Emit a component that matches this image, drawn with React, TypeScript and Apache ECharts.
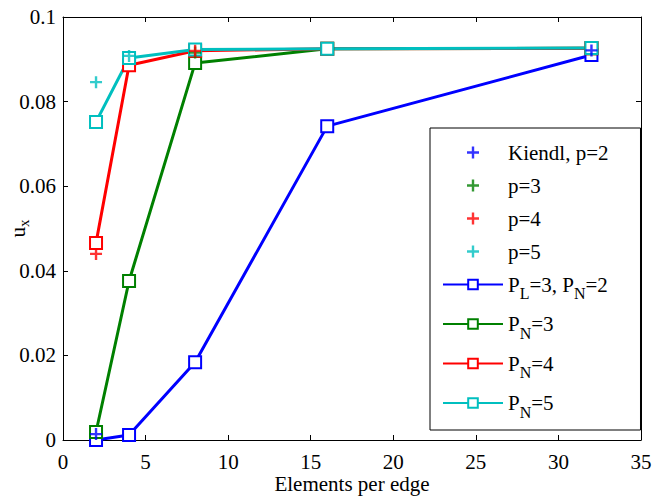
import React, { useEffect, useRef } from 'react';
import * as echarts from 'echarts';

// Elements per edge
const edges = [2, 4, 8, 16, 32];

// Line series (u_x values)
const pl3pn2 = [0.0, 0.0012, 0.0184, 0.0742, 0.091];
const pn3 = [0.0019, 0.0376, 0.0891, 0.0925, 0.0926];
const pn4 = [0.0466, 0.0886, 0.092, 0.0925, 0.0926];
const pn5 = [0.0752, 0.0903, 0.0923, 0.0925, 0.0927];

// Kiendl reference points [edges, u_x]
const kiendlP2 = [[2, 0.0014], [32, 0.0921]];
const kiendlP3 = [[8, 0.0916]];
const kiendlP4 = [[2, 0.044], [8, 0.092]];
const kiendlP5 = [[2, 0.0846], [4, 0.0908]];

const xTickStep = 5;
const yTickStep = 0.02;

const BLUE = '#0000ff';
const GREEN = '#008000';
const RED = '#ff0000';
const CYAN = '#00bfbf';

const FONT = '"Liberation Serif", "DejaVu Serif", serif';
const PLUS = 'path://M4,0H6V4H10V6H6V10H4V6H0V4H4Z';

const legendRich: Record<string, string> = {
  'Kiendl, p=2': '{t|Kiendl, p=2}',
  'p=3': '{t|p=3}',
  'p=4': '{t|p=4}',
  'p=5': '{t|p=5}',
  'P_L=3, P_N=2': '{m|P}{s|L}{m|=3, P}{s|N}{m|=2}',
  'P_N=3': '{m|P}{s|N}{m|=3}',
  'P_N=4': '{m|P}{s|N}{m|=4}',
  'P_N=5': '{m|P}{s|N}{m|=5}',
};

export default function App() {
  const ref = useRef<HTMLDivElement>(null);
  useEffect(() => {
    const chart = echarts.init(ref.current!, null, { renderer: 'svg' });
    const txt = (size: number, extra: any = {}) => ({
      color: '#000', fontFamily: FONT, fontSize: size, fontWeight: 'normal', fontStyle: 'normal', ...extra,
    });
    const plusSeries = (name: string, data: number[][], color: string) => ({
      name,
      type: 'scatter',
      data,
      symbol: PLUS,
      symbolSize: 12,
      itemStyle: { color },
      z: 3,
    });
    const lineSeries = (name: string, values: number[], color: string) => ({
      name,
      type: 'line',
      data: edges.map((e, i) => [e, values[i]]),
      symbol: 'emptyRect',
      symbolSize: 12,
      showAllSymbol: true,
      lineStyle: { color, width: 3 },
      itemStyle: { color, borderColor: color, borderWidth: 2.5 },
      z: 2,
    });
    const axisCommon = {
      axisLine: { show: true, onZero: false, lineStyle: { color: '#000', width: 1 } },
      axisTick: { show: true, inside: true, length: 5, lineStyle: { color: '#000' } },
      splitLine: { show: false },
    };
    chart.setOption({
      animation: false,
      backgroundColor: '#fff',
      textStyle: { fontFamily: FONT },
      grid: { left: 63, top: 17, width: 578, height: 423, show: false, containLabel: false, outerBoundsMode: 'none' },
      xAxis: [
        {
          type: 'value', min: 0, max: 35, interval: xTickStep, position: 'bottom',
          ...axisCommon,
          axisLabel: txt(21, { margin: 11 }),
          name: 'Elements per edge', nameLocation: 'middle', nameGap: 33, nameMoveOverlap: false,
          nameTextStyle: txt(21),
        },
        {
          type: 'value', min: 0, max: 35, interval: xTickStep, position: 'top',
          ...axisCommon, axisLabel: { show: false },
        },
      ],
      yAxis: [
        {
          type: 'value', min: 0, max: 0.1, interval: yTickStep, position: 'left',
          ...axisCommon,
          axisLabel: txt(21, { margin: 7, formatter: (v: number) => String(+v.toFixed(2)) }),
          name: '{u|u}{x|x}', nameLocation: 'middle', nameGap: 32, nameRotate: 90, nameMoveOverlap: false,
          nameTextStyle: txt(21, {
            rich: {
              u: txt(21, { lineHeight: 26, verticalAlign: 'middle' }),
              x: txt(15, { lineHeight: 26, verticalAlign: 'bottom' }),
            },
          }),
        },
        {
          type: 'value', min: 0, max: 0.1, interval: yTickStep, position: 'right',
          ...axisCommon, axisLabel: { show: false },
        },
      ],
      legend: {
        orient: 'vertical',
        left: 430,
        top: 128,
        padding: [14, 32, 10, 12],
        itemGap: 12,
        itemWidth: 60,
        itemHeight: 12,
        borderColor: '#000',
        borderWidth: 1,
        backgroundColor: '#fff',
        data: ['Kiendl, p=2', 'p=3', 'p=4', 'p=5', 'P_L=3, P_N=2', 'P_N=3', 'P_N=4', 'P_N=5'],
        formatter: (name: string) => legendRich[name] || name,
        textStyle: txt(21, {
          rich: {
            t: txt(21, { lineHeight: 20 }),
            m: txt(21, { lineHeight: 34, verticalAlign: 'middle' }),
            s: txt(16, { lineHeight: 34, verticalAlign: 'bottom' }),
          },
        }),
      },
      series: [
        plusSeries('Kiendl, p=2', kiendlP2, BLUE),
        plusSeries('p=3', kiendlP3, GREEN),
        plusSeries('p=4', kiendlP4, RED),
        plusSeries('p=5', kiendlP5, CYAN),
        lineSeries('P_L=3, P_N=2', pl3pn2, BLUE),
        lineSeries('P_N=3', pn3, GREEN),
        lineSeries('P_N=4', pn4, RED),
        lineSeries('P_N=5', pn5, CYAN),
      ],
    });
    return () => chart.dispose();
  }, []);
  return <div ref={ref} style={{ position: 'fixed', left: 0, top: 0, width: 657, height: 498 }} />;
}
